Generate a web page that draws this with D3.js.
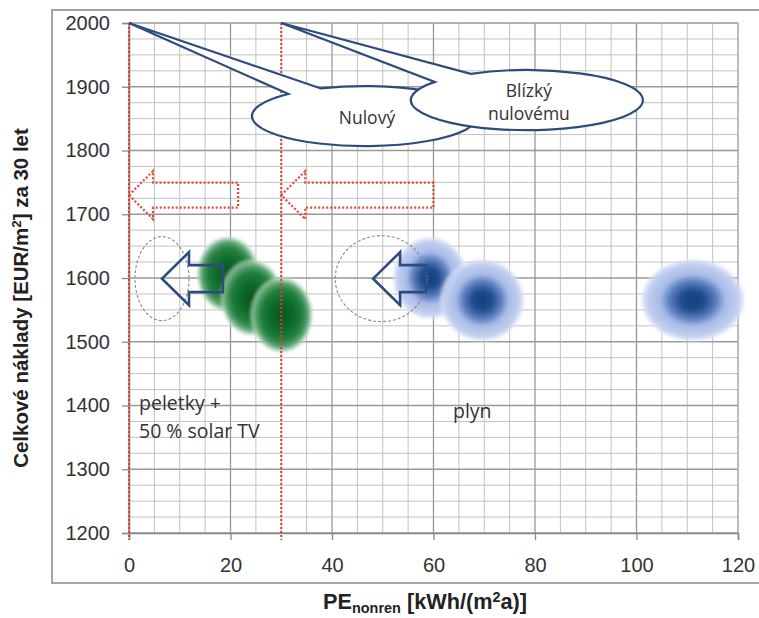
<!DOCTYPE html>
<html>
<head>
<meta charset="utf-8">
<script src="https://cdn.jsdelivr.net/npm/d3@7"></script>
<style>
  html, body { margin: 0; padding: 0; background: #fff; }
  svg { display: block; }
</style>
</head>
<body>
<svg id="chart" width="759" height="618"></svg>
<script>
// ---- data ----
const xTicks = [0, 20, 40, 60, 80, 100, 120];
const yTicks = [1200, 1300, 1400, 1500, 1600, 1700, 1800, 1900, 2000];

// pellets + 50 % solar hot water variants
const pelletX = [19.5, 24.2, 30.1];
const pelletY = [1606, 1569, 1542];
// gas variants
const gasX = [59.3, 69.6, 111.1];
const gasY = [1600, 1565, 1565];

// energy limits (nearly zero / zero), drawn as red dotted lines
const limitX = [0, 30];
const calloutText = [["Nulový"], ["Blízký", "nulovému"]];

// improvement arrows (from, to) along x at a given cost level
const targetArrowFrom = [21.5, 60];
const targetArrowTo = [0, 30];
const targetArrowY = 1730;
const shiftArrowFrom = [18.5, 58.5];
const shiftArrowTo = [6.5, 48.1];
const shiftArrowY = 1599;
const targetCircleX = [6.5, 49.7];

const groupLabels = ["peletky +", "50 % solar TV", "plyn"];

// ---- layout ----
const svg = d3.select("#chart");
const plotL = 129, plotR = 738, plotT = 23, plotB = 533;

const x = d3.scaleLinear().domain([0, 120]).range([plotL, plotR]);
const y = d3.scaleLinear().domain([1200, 2000]).range([plotB, plotT]);

const defs = svg.append("defs");

// outer frame
svg.append("rect")
  .attr("x", 52).attr("y", 10).attr("width", 730).attr("height", 573)
  .attr("fill", "#fff").attr("stroke", "#a3a3a3").attr("stroke-width", 2);

// ---- grid ----
const grid = svg.append("g");
const minorX = d3.range(0, 121, 5).filter(v => v % 20 !== 0);
const minorY = d3.range(1200, 2001, 25).filter(v => v % 100 !== 0);
grid.selectAll(".mx").data(minorX).join("line")
  .attr("x1", d => x(d)).attr("x2", d => x(d)).attr("y1", plotT).attr("y2", plotB)
  .attr("stroke", "#c2c2c2").attr("stroke-width", 1);
grid.selectAll(".my").data(minorY).join("line")
  .attr("x1", plotL).attr("x2", plotR).attr("y1", d => y(d)).attr("y2", d => y(d))
  .attr("stroke", "#c2c2c2").attr("stroke-width", 1);
grid.selectAll(".Mx").data(xTicks).join("line")
  .attr("x1", d => x(d)).attr("x2", d => x(d)).attr("y1", plotT).attr("y2", plotB)
  .attr("stroke", "#999").attr("stroke-width", 1.3);
grid.selectAll(".My").data(yTicks).join("line")
  .attr("x1", plotL).attr("x2", plotR).attr("y1", d => y(d)).attr("y2", d => y(d))
  .attr("stroke", "#999").attr("stroke-width", 1.3);

// ---- axes ----
const xAxis = d3.axisBottom(x).tickValues(xTicks).tickFormat(d3.format("d"))
  .tickSize(7).tickPadding(18);
const yAxis = d3.axisLeft(y).tickValues(yTicks).tickFormat(d3.format("d"))
  .tickSize(7).tickPadding(12);
const gx = svg.append("g").attr("transform", `translate(0,${plotB})`).call(xAxis);
const gy = svg.append("g").attr("transform", `translate(${plotL},0)`).call(yAxis);
[gx, gy].forEach(g => {
  g.select(".domain").attr("stroke", "#888").attr("stroke-width", 1.6);
  g.selectAll(".tick line").attr("stroke", "#888").attr("stroke-width", 1.3);
  g.selectAll(".tick text")
    .attr("font-family", "Liberation Sans, Arial, sans-serif")
    .attr("font-size", 20).attr("fill", "#333");
});
gx.selectAll(".tick text").attr("dy", "0.71em");

// ---- blobs ----
function radial(id, stops) {
  const g = defs.append("radialGradient").attr("id", id)
    .attr("cx", "50%").attr("cy", "50%").attr("r", "50%");
  stops.forEach(s => g.append("stop").attr("offset", s[0])
    .attr("stop-color", s[1]).attr("stop-opacity", s[2] === undefined ? 1 : s[2]));
}
radial("greenBlob", [
  [0, "#05541e"], [0.35, "#0b682b"], [0.65, "#22803e"], [0.82, "#5aa371"],
  [0.93, "#a8d1b3", 0.75], [1, "#ffffff", 0]
]);
radial("blueBlob", [
  [0, "#163f7c"], [0.22, "#1c4b8b"], [0.45, "#5d7fc0"], [0.62, "#a9bce6"],
  [0.85, "#c0cdef"], [0.95, "#d3ddf4", 0.7], [1, "#ffffff", 0]
]);
const softBlur = defs.append("filter").attr("id", "soft")
  .attr("x", "-20%").attr("y", "-20%").attr("width", "140%").attr("height", "140%");
softBlur.append("feGaussianBlur").attr("stdDeviation", 1.5);

const pelletRx = 32, pelletRy = 39;
const gasRx = [38, 43, 53], gasRy = [42, 42, 42];

const blobs = svg.append("g").attr("filter", "url(#soft)");
blobs.selectAll(".gas").data(gasX).join("ellipse")
  .attr("cx", d => x(d)).attr("cy", (d, i) => y(gasY[i]))
  .attr("rx", (d, i) => gasRx[i]).attr("ry", (d, i) => gasRy[i])
  .attr("fill", "url(#blueBlob)");
blobs.selectAll(".pel").data(pelletX).join("ellipse")
  .attr("cx", d => x(d)).attr("cy", (d, i) => y(pelletY[i]))
  .attr("rx", pelletRx).attr("ry", pelletRy)
  .attr("fill", "url(#greenBlob)");

// ---- dashed target ellipses ----
const circRx = [27, 46], circRy = [42, 43];
svg.selectAll(".tc").data(targetCircleX).join("ellipse")
  .attr("cx", d => x(d)).attr("cy", y(shiftArrowY))
  .attr("rx", (d, i) => circRx[i]).attr("ry", (d, i) => circRy[i])
  .attr("fill", "none").attr("stroke", "#8c8c8c").attr("stroke-width", 1.1)
  .attr("stroke-dasharray", "3,2");

// ---- limit lines ----
svg.selectAll(".lim").data(limitX).join("line")
  .attr("x1", d => x(d)).attr("x2", d => x(d))
  .attr("y1", y(2000)).attr("y2", y(1189))
  .attr("stroke", "#e2382f").attr("stroke-width", 2).attr("stroke-dasharray", "2,2");

// ---- block arrows ----
function blockArrow(x0, x1, cy, headLen, headHalf, shaftHalf) {
  // tip at x1, tail at x0 (pixels)
  const dir = x1 < x0 ? 1 : -1;
  const hb = x1 + dir * headLen;
  return `M${x1},${cy} L${hb},${cy - headHalf} L${hb},${cy - shaftHalf} L${x0},${cy - shaftHalf}` +
         ` L${x0},${cy + shaftHalf} L${hb},${cy + shaftHalf} L${hb},${cy + headHalf} Z`;
}
svg.selectAll(".tarr").data(targetArrowFrom).join("path")
  .attr("d", (d, i) => blockArrow(x(d), x(targetArrowTo[i]), y(targetArrowY), 24, 24, 12.5))
  .attr("fill", "none").attr("stroke", "#e4463d").attr("stroke-width", 2.2)
  .attr("stroke-dasharray", "2,2");

svg.selectAll(".sarr").data(shiftArrowFrom).join("path")
  .attr("d", (d, i) => blockArrow(x(d), x(shiftArrowTo[i]), y(shiftArrowY), 27, 26.5, 13.5))
  .attr("fill", "none").attr("stroke", "#2d4b7e").attr("stroke-width", 2.6)
  .attr("stroke-linejoin", "miter");

// ---- callouts ----
const calloutCenter = [[46.5, 1854], [78.4, 1879]];
const calloutR = [[113, 30], [116, 30]];
const calloutBase = [[-132.7, -113], [-142.5, -118.9]];
function calloutPath(tip, c, rx, ry, a1, a2) {
  const p = a => [c[0] + rx * Math.cos(a * Math.PI / 180), c[1] + ry * Math.sin(a * Math.PI / 180)];
  const p1 = p(a1), p2 = p(a2);
  return `M${tip[0]},${tip[1]} L${p2[0]},${p2[1]} A${rx},${ry} 0 1 1 ${p1[0]},${p1[1]} Z`;
}
const callouts = svg.append("g");
calloutText.forEach((lines, i) => {
  const tip = [x(limitX[i]), y(2000)];
  const c = [x(calloutCenter[i][0]), y(calloutCenter[i][1])];
  const g = callouts.append("g");
  g.append("path")
    .attr("d", calloutPath(tip, c, calloutR[i][0], calloutR[i][1], calloutBase[i][0], calloutBase[i][1]))
    .attr("fill", "#fff").attr("stroke", "#2e4b7c").attr("stroke-width", 2.2)
    .attr("stroke-linejoin", "miter");
  const lh = 23;
  g.selectAll("text").data(lines).join("text")
    .attr("x", c[0] + 2)
    .attr("y", (d, j) => c[1] + 2 + (j - (lines.length - 1) / 2) * lh)
    .attr("dy", "0.35em")
    .attr("text-anchor", "middle")
    .attr("font-family", "Open Sans, sans-serif").attr("font-size", 17.5)
    .attr("fill", "#333")
    .text(d => d);
});

// ---- group labels ----
const lblFont = "Open Sans, sans-serif";
svg.append("text").attr("x", 139).attr("y", 410)
  .attr("font-family", lblFont).attr("font-size", 19.5).attr("fill", "#333")
  .text(groupLabels[0]);
svg.append("text").attr("x", 139).attr("y", 438)
  .attr("font-family", lblFont).attr("font-size", 19.5).attr("fill", "#333")
  .text(groupLabels[1]);
svg.append("text").attr("x", 453).attr("y", 418)
  .attr("font-family", lblFont).attr("font-size", 19.5).attr("fill", "#333")
  .text(groupLabels[2]);

// ---- axis titles ----
// scale a title so that its rendered length spans the given extent
function fitTitle(sel, length) {
  const w = sel.node().getBBox().width;
  const fs = +sel.attr("font-size");
  sel.attr("font-size", fs * length / w);
  sel.selectAll("tspan").each(function () {
    const t = d3.select(this);
    if (t.attr("font-size")) t.attr("font-size", +t.attr("font-size") * length / w);
  });
}

const yTitle = svg.append("text")
  .attr("text-anchor", "middle")
  .attr("font-family", "Liberation Sans, Arial, sans-serif")
  .attr("font-weight", "bold").attr("font-size", 20).attr("fill", "#222")
  .html('Celkové náklady [EUR/m<tspan dy="-7" font-size="13">2</tspan><tspan dy="7">] za 30 let</tspan>');
fitTitle(yTitle, 340);
yTitle.attr("transform", "translate(28,298) rotate(-90)");

const xTitle = svg.append("text")
  .attr("x", 425).attr("y", 609)
  .attr("text-anchor", "middle")
  .attr("font-family", "Liberation Sans, Arial, sans-serif")
  .attr("font-weight", "bold").attr("font-size", 21).attr("fill", "#222")
  .html('PE<tspan dy="4" font-size="14">nonren</tspan><tspan dy="-4"> [kWh/(m</tspan><tspan dy="-7" font-size="14">2</tspan><tspan dy="7">a)]</tspan>');
fitTitle(xTitle, 204);
</script>
</body>
</html>
